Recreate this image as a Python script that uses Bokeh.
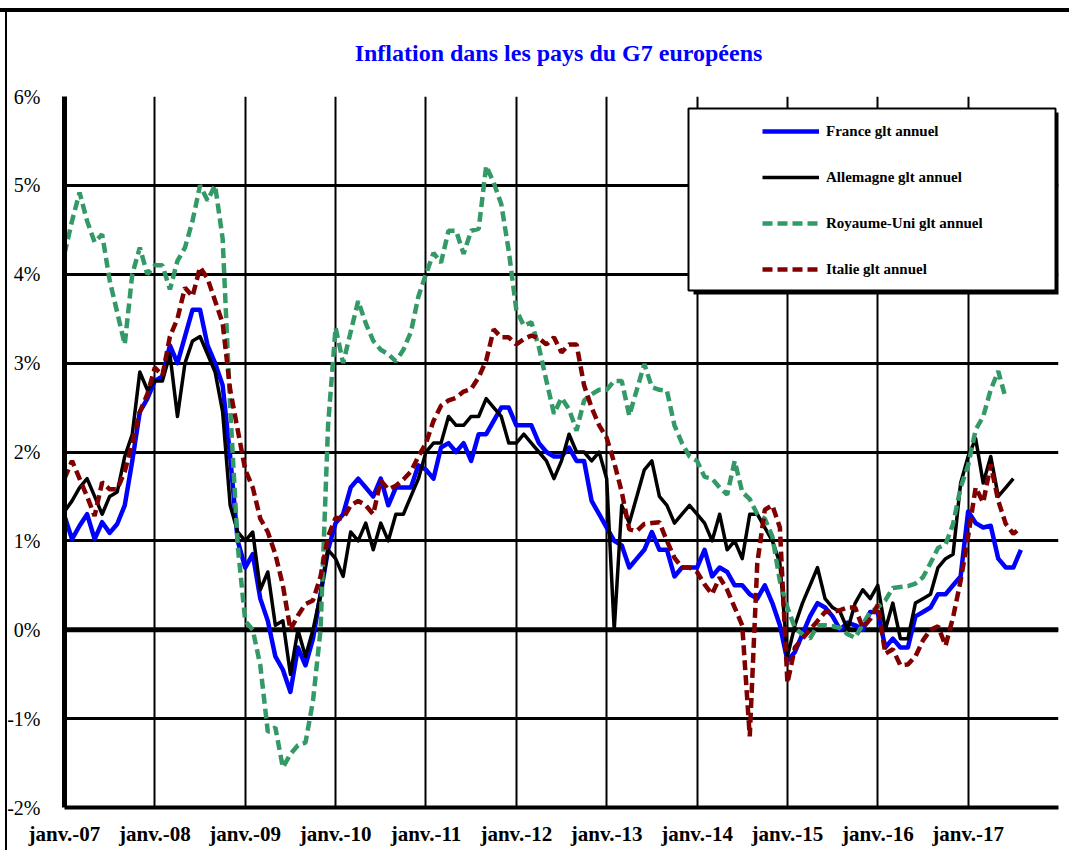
from bokeh.plotting import figure
from bokeh.models import (Range1d, FixedTicker, Span, BoxAnnotation, Legend, LegendItem)
from bokeh.embed import file_html
from bokeh.resources import INLINE

# ---- data (glissement annuel, %, monthly from janv. 2007) ----
tick_labels = ["janv.-07", "janv.-08", "janv.-09", "janv.-10", "janv.-11", "janv.-12",
               "janv.-13", "janv.-14", "janv.-15", "janv.-16", "janv.-17"]
y_tick_values = [-2, -1, 0, 1, 2, 3, 4, 5, 6]
y_tick_labels = ["-2%", "-1%", "0%", "1%", "2%", "3%", "4%", "5%", "6%"]

france = [
    1.28, 1.02, 1.17, 1.30, 1.02, 1.21, 1.09, 1.19, 1.40, 1.90, 2.45, 2.60,
    2.80, 2.85, 3.20, 3.00, 3.30, 3.60, 3.60, 3.20, 3.00, 2.75, 1.95, 1.00,
    0.70, 0.85, 0.35, 0.10, -0.30, -0.45, -0.70, -0.20, -0.40, -0.10, 0.40, 0.90,
    1.20, 1.30, 1.60, 1.70, 1.60, 1.50, 1.70, 1.40, 1.60, 1.60, 1.60, 1.85,
    1.80, 1.70, 2.05, 2.10, 2.00, 2.10, 1.90, 2.20, 2.20, 2.35, 2.50, 2.50,
    2.30, 2.30, 2.30, 2.10, 2.00, 1.95, 1.95, 2.05, 1.90, 1.90, 1.45, 1.30,
    1.15, 1.00, 0.95, 0.70, 0.80, 0.90, 1.10, 0.90, 0.90, 0.60, 0.70, 0.70,
    0.70, 0.90, 0.60, 0.70, 0.65, 0.50, 0.50, 0.40, 0.35, 0.50, 0.30, 0.05,
    -0.35, -0.25, -0.05, 0.15, 0.30, 0.25, 0.15, 0.00, 0.08, 0.05, 0.00, 0.20,
    0.20, -0.20, -0.10, -0.20, -0.20, 0.15, 0.20, 0.25, 0.40, 0.40, 0.50, 0.60,
    1.33, 1.20, 1.15, 1.17, 0.80, 0.70, 0.70, 0.90,
]

allemagne = [
    1.33, 1.45, 1.60, 1.70, 1.50, 1.30, 1.50, 1.55, 1.95, 2.20, 2.90, 2.70,
    2.80, 2.80, 3.10, 2.40, 3.00, 3.25, 3.30, 3.10, 2.90, 2.45, 1.40, 1.10,
    1.00, 1.10, 0.45, 0.65, 0.05, 0.10, -0.50, 0.00, -0.30, 0.00, 0.40, 0.90,
    0.80, 0.60, 1.10, 1.00, 1.20, 0.90, 1.20, 1.00, 1.30, 1.30, 1.50, 1.70,
    2.00, 2.10, 2.10, 2.40, 2.30, 2.30, 2.40, 2.40, 2.60, 2.50, 2.40, 2.10,
    2.10, 2.20, 2.10, 2.00, 1.90, 1.70, 1.90, 2.20, 2.00, 2.00, 1.90, 2.00,
    1.70, 0.00, 1.40, 1.20, 1.50, 1.80, 1.90, 1.50, 1.40, 1.20, 1.30, 1.40,
    1.30, 1.20, 1.00, 1.30, 0.90, 1.00, 0.80, 1.30, 1.30, 1.15, 1.00, 0.75,
    -0.30, 0.05, 0.30, 0.50, 0.70, 0.35, 0.25, 0.20, 0.00, 0.30, 0.45, 0.35,
    0.50, 0.00, 0.30, -0.10, -0.10, 0.30, 0.35, 0.40, 0.70, 0.80, 0.85, 1.65,
    1.95, 2.15, 1.65, 1.95, 1.50, 1.60, 1.70,
]

royaume_uni = [
    4.23, 4.60, 4.92, 4.60, 4.36, 4.45, 3.93, 3.57, 3.21, 4.00, 4.30, 4.00,
    4.10, 4.10, 3.83, 4.15, 4.30, 4.60, 5.00, 4.83, 5.00, 4.40, 2.50, 0.95,
    0.10, 0.00, -0.40, -1.15, -1.10, -1.55, -1.40, -1.30, -1.27, -0.80, 0.00, 2.30,
    3.40, 3.00, 3.35, 3.70, 3.45, 3.25, 3.15, 3.10, 3.02, 3.15, 3.35, 3.75,
    4.00, 4.24, 4.13, 4.49, 4.49, 4.23, 4.49, 4.51, 5.22, 5.03, 4.79, 4.26,
    3.60, 3.42, 3.46, 3.18, 2.80, 2.43, 2.61, 2.48, 2.24, 2.58, 2.65, 2.70,
    2.70, 2.80, 2.80, 2.41, 2.70, 2.99, 2.73, 2.70, 2.69, 2.30, 2.10, 1.95,
    1.90, 1.72, 1.70, 1.60, 1.52, 1.90, 1.55, 1.47, 1.30, 1.25, 1.05, 0.55,
    0.25, 0.02, -0.05, -0.10, 0.05, 0.05, 0.04, 0.02, -0.05, -0.09, 0.06, 0.20,
    0.25, 0.33, 0.47, 0.48, 0.49, 0.52, 0.59, 0.75, 0.92, 0.96, 1.19, 1.60,
    1.85, 2.25, 2.40, 2.70, 2.91, 2.60,
]

italie = [
    1.70, 1.90, 1.70, 1.50, 1.28, 1.66, 1.58, 1.58, 1.78, 2.10, 2.45, 2.65,
    2.95, 2.86, 3.30, 3.50, 3.85, 3.75, 4.08, 3.95, 3.70, 3.45, 2.70, 2.25,
    1.80, 1.60, 1.25, 1.10, 0.85, 0.50, 0.00, 0.16, 0.29, 0.33, 0.60, 1.05,
    1.26, 1.25, 1.40, 1.45, 1.40, 1.30, 1.68, 1.58, 1.62, 1.69, 1.78, 1.95,
    2.10, 2.35, 2.52, 2.58, 2.61, 2.68, 2.71, 2.84, 3.03, 3.38, 3.29, 3.29,
    3.21, 3.27, 3.31, 3.28, 3.21, 3.29, 3.12, 3.21, 3.21, 2.75, 2.50, 2.30,
    2.16, 1.88, 1.55, 1.13, 1.11, 1.19, 1.20, 1.21, 1.00, 0.81, 0.70, 0.70,
    0.65, 0.51, 0.40, 0.59, 0.45, 0.25, 0.05, -1.20, 0.75, 1.35, 1.40, 1.15,
    -0.60, -0.20, -0.10, 0.00, 0.10, 0.20, 0.20, 0.22, 0.25, 0.25, 0.02, 0.12,
    0.28, -0.27, -0.22, -0.40, -0.39, -0.30, -0.12, 0.00, 0.04, -0.18, 0.14, 0.55,
    1.05, 1.60, 1.43, 1.86, 1.45, 1.19, 1.08, 1.15,
]

series_names = ["France glt annuel", "Allemagne glt annuel",
                "Royaume-Uni glt annuel", "Italie glt annuel"]

SERIF = "Liberation Serif"
W, H = 1069, 850
n_months = 12 * len(tick_labels)  # axis spans janv.-07 .. janv.-18

p = figure(width=W, height=H, output_backend="svg", toolbar_location=None,
           x_range=Range1d(0, n_months),
           y_range=Range1d(y_tick_values[0], y_tick_values[-1]),
           min_border_left=64, min_border_right=11, min_border_top=96, min_border_bottom=43,
           background_fill_color="white", border_fill_color="white")
p.border_fill_alpha = 0
p.outline_line_color = None
# outer frame lines of the picture (top band and left rule) drawn behind the canvas
p.styles = {
    "background-color": "white",
    "background-image": "linear-gradient(#000, #000), linear-gradient(#000, #000)",
    "background-size": "100% 4px, 2px 100%",
    "background-position": "0px 8px, 5px 8px",
    "background-repeat": "no-repeat",
}

# title
p.title.text = "Inflation dans les pays du  G7 européens"
p.title.align = "center"
p.title.text_font = SERIF
p.title.text_font_size = "24px"
p.title.text_font_style = "bold"
p.title.text_color = "#0000FF"
p.title.standoff = 62

# grids
p.ygrid.ticker = FixedTicker(ticks=y_tick_values)
p.ygrid.grid_line_color = "black"
p.ygrid.grid_line_width = 3
p.xgrid.ticker = FixedTicker(ticks=[12 * k for k in range(len(tick_labels) + 1)])
p.xgrid.grid_line_color = "black"
p.xgrid.grid_line_width = 2

# y axis
p.yaxis.ticker = FixedTicker(ticks=y_tick_values)
p.yaxis.major_label_overrides = {v: s for v, s in zip(y_tick_values, y_tick_labels)}
p.yaxis.axis_line_width = 5
p.yaxis.axis_line_color = "black"
p.yaxis.major_tick_line_color = None
p.yaxis.minor_tick_line_color = None
p.yaxis.major_label_standoff = 18
p.yaxis.major_label_text_font = SERIF
p.yaxis.major_label_text_font_size = "20px"
p.yaxis.major_label_text_color = "black"

# x axis
x_ticks = [12 * k for k in range(len(tick_labels))]
p.xaxis.ticker = FixedTicker(ticks=x_ticks)
p.xaxis.major_label_overrides = {t: s for t, s in zip(x_ticks, tick_labels)}
p.xaxis.axis_line_width = 4
p.xaxis.axis_line_color = "black"
p.xaxis.major_tick_line_color = None
p.xaxis.minor_tick_line_color = None
p.xaxis.major_label_standoff = 8
p.xaxis.major_label_text_font = SERIF
p.xaxis.major_label_text_font_size = "21px"
p.xaxis.major_label_text_font_style = "bold"
p.xaxis.major_label_text_color = "black"

# zero line
p.add_layout(Span(location=0, dimension="width", line_color="black", line_width=5,
                  level="underlay"))

# series
r_fr = p.line(list(range(len(france))), france, line_color="#0000FF", line_width=4.5,
              line_join="round")
r_de = p.line(list(range(len(allemagne))), allemagne, line_color="black", line_width=3.5,
              line_join="round")
r_uk = p.line(list(range(len(royaume_uni))), royaume_uni, line_color="#339966",
              line_width=4.5, line_dash="10 5")
r_it = p.line(list(range(len(italie))), italie, line_color="#800000",
              line_width=4.5, line_dash="10 5")

# legend box with shadow
p.add_layout(BoxAnnotation(left=693, right=1060, top=112, bottom=294,
                           left_units="canvas", right_units="canvas",
                           top_units="canvas", bottom_units="canvas",
                           fill_color="black", fill_alpha=1, line_color=None))
p.add_layout(BoxAnnotation(left=688, right=1055, top=108, bottom=290,
                           left_units="canvas", right_units="canvas",
                           top_units="canvas", bottom_units="canvas",
                           fill_color="white", fill_alpha=1, line_color="black",
                           line_width=2, line_alpha=1))

legend = Legend(items=[LegendItem(label=n, renderers=[r])
                       for n, r in zip(series_names, [r_fr, r_de, r_uk, r_it])],
                location=(698, 528), orientation="vertical")
legend.border_line_alpha = 0
legend.background_fill_alpha = 0
legend.padding = 0
legend.margin = 0
legend.spacing = 26
legend.glyph_width = 57
legend.glyph_height = 20
legend.label_height = 20
legend.label_standoff = 7
legend.label_text_font = SERIF
legend.label_text_font_size = "15px"
legend.label_text_font_style = "bold"
legend.label_text_color = "black"
p.add_layout(legend, "center")

open("out.html", "w").write(file_html(p, INLINE))
